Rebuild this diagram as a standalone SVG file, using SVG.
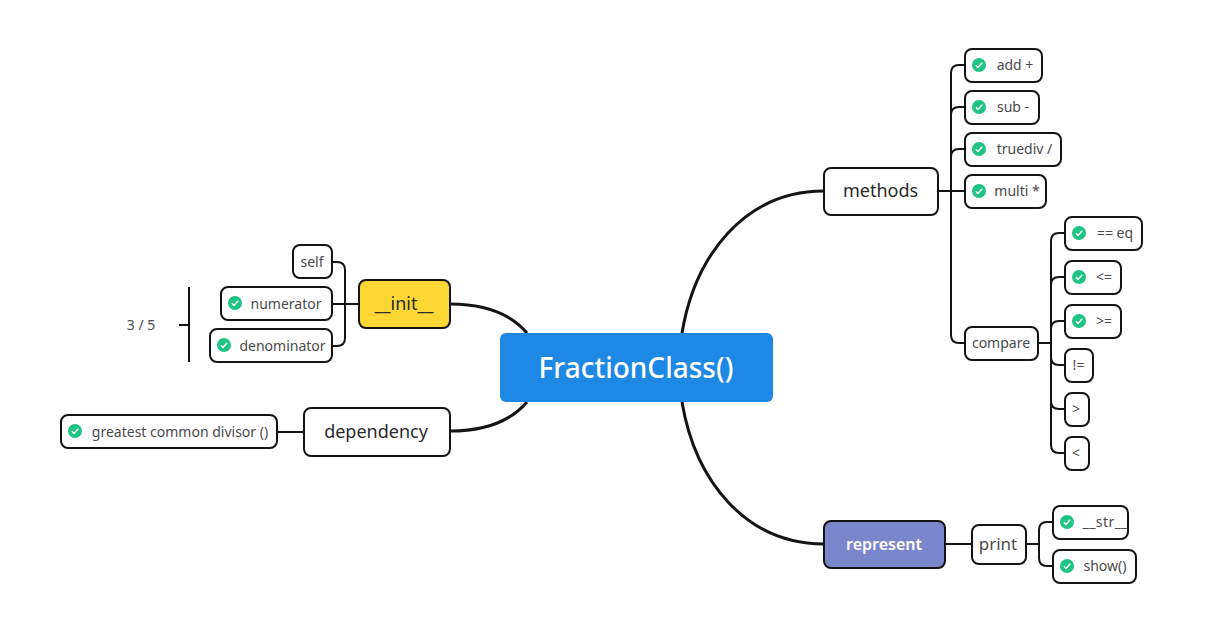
<svg xmlns="http://www.w3.org/2000/svg" width="1216" height="641" viewBox="0 0 1216 641">
<style>
text{font-family:"Noto Sans","Open Sans","Liberation Sans",sans-serif;text-anchor:middle;fill:#4a4a4a;font-size:14px}
.n{fill:#fff;stroke:#141414;stroke-width:2}
.t2{font-size:18px;fill:#2a2a2a}
.c{fill:none;stroke:#141414;stroke-width:2}
.m{fill:none;stroke:#141414;stroke-width:3}
.ok{fill:#1fc384}
.ck{fill:none;stroke:#fff;stroke-width:1.5}
</style>
<defs>
<g id="tick"><circle r="7" class="ok"/><path d="M-3.2 0.2L-1 2.5L3.2-2.2" class="ck"/></g>
</defs>
<g id="connectors">
<path class="m" d="M682 333C695 255 745 191 824 191"/>
<path class="m" d="M682 402C695 480 745 544 824 544"/>
<path class="m" d="M527 333C510 313 485 304 450 304"/>
<path class="m" d="M527 402C510 422 485 431 450 431"/>
<path class="c" d="M938 191H965M951 335V73Q951 65 959 65H965M951 115Q951 107 959 107H965M951 157Q951 149 959 149H965M951 335Q951 343 959 343H965"/>
<path class="c" d="M1038 343H1051M1051 241Q1051 233 1059 233H1065M1051 285Q1051 277 1059 277H1065M1051 329Q1051 321 1059 321H1065M1051 241V445Q1051 453 1059 453H1065M1051 357Q1051 365 1059 365H1065M1051 401Q1051 409 1059 409H1065"/>
<path class="c" d="M945 544H972M1026 544H1039M1039 530Q1039 522 1047 522H1053M1039 530V558Q1039 566 1047 566H1053"/>
<path class="c" d="M359 304H332M332 262H337Q345 262 345 270V338Q345 346 337 346H332"/>
<path class="c" d="M304 432H277"/>
<path class="c" d="M189 287V362M179 325H189"/>
</g>
<g id="root"><rect x="500" y="333" width="273" height="69" rx="6" fill="#1e88e5"/><text x="636" y="378" style="font-size:28px;font-weight:500;fill:#fff">FractionClass()</text></g>
<g id="methods"><rect class="n" x="824" y="168" width="114" height="47" rx="7"/><text class="t2" x="880.500" y="197">methods</text></g>
<g id="represent"><rect class="n" x="824" y="521" width="121" height="47" rx="7" style="fill:#7986cb"/><text x="884" y="549.500" style="font-size:16px;font-weight:600;fill:#fff">represent</text></g>
<g id="init"><rect class="n" x="359" y="280" width="91" height="48" rx="7" style="fill:#fdd835"/><text class="t2" x="404" y="310">__init__</text></g>
<g id="dependency"><rect class="n" x="304" y="408" width="146" height="48" rx="7"/><text class="t2" x="376" y="438">dependency</text></g>
<g id="add"><rect class="n" x="965" y="49" width="77" height="33" rx="7"/><use href="#tick" x="979" y="65"/><text x="1015" y="70">add +</text></g>
<g id="sub"><rect class="n" x="965" y="91" width="74" height="33" rx="7"/><use href="#tick" x="979" y="107"/><text x="1013" y="112">sub -</text></g>
<g id="truediv"><rect class="n" x="965" y="133" width="96" height="33" rx="7"/><use href="#tick" x="979" y="149"/><text x="1024.500" y="154">truediv /</text></g>
<g id="multi"><rect class="n" x="965" y="175" width="81" height="33" rx="7"/><use href="#tick" x="979" y="191"/><text x="1017" y="196">multi *</text></g>
<g id="compare"><rect class="n" x="965" y="327" width="73" height="33" rx="7"/><text x="1001" y="348">compare</text></g>
<g id="eq"><rect class="n" x="1065" y="217" width="77" height="33" rx="7"/><use href="#tick" x="1079" y="233"/><text x="1115" y="238">== eq</text></g>
<g id="le"><rect class="n" x="1065" y="261" width="56" height="33" rx="7"/><use href="#tick" x="1079" y="277"/><text x="1104" y="282">&lt;=</text></g>
<g id="ge"><rect class="n" x="1065" y="305" width="56" height="33" rx="7"/><use href="#tick" x="1079" y="321"/><text x="1104" y="326">&gt;=</text></g>
<g id="ne"><rect class="n" x="1065" y="349" width="28" height="33" rx="7"/><text x="1078.500" y="370">!=</text></g>
<g id="gt"><rect class="n" x="1065" y="393" width="24" height="33" rx="7"/><text x="1076" y="414">&gt;</text></g>
<g id="lt"><rect class="n" x="1065" y="437" width="24" height="33" rx="7"/><text x="1076" y="458">&lt;</text></g>
<g id="print"><rect class="n" x="972" y="525" width="54" height="39" rx="7"/><text x="998" y="550" style="font-size:17px">print</text></g>
<g id="str"><rect class="n" x="1053" y="506" width="75" height="33" rx="7"/><use href="#tick" x="1067" y="522"/><text x="1105" y="527" textLength="45">__str__</text></g>
<g id="show"><rect class="n" x="1053" y="550" width="83" height="33" rx="7"/><use href="#tick" x="1067" y="566"/><text x="1105" y="571">show()</text></g>
<g id="self"><rect class="n" x="293" y="245" width="39" height="33" rx="7"/><text x="312" y="267">self</text></g>
<g id="numerator"><rect class="n" x="221" y="287" width="111" height="33" rx="7"/><use href="#tick" x="235" y="303"/><text x="286" y="309">numerator</text></g>
<g id="denominator"><rect class="n" x="210" y="329" width="122" height="33" rx="7"/><use href="#tick" x="224" y="345"/><text x="282.500" y="351">denominator</text></g>
<g id="gcd"><rect class="n" x="61" y="415" width="216" height="33" rx="7"/><use href="#tick" x="75" y="431"/><text x="180" y="437">greatest common divisor ()</text></g>
<g id="note"><text x="141" y="330">3 / 5</text></g>
</svg>
